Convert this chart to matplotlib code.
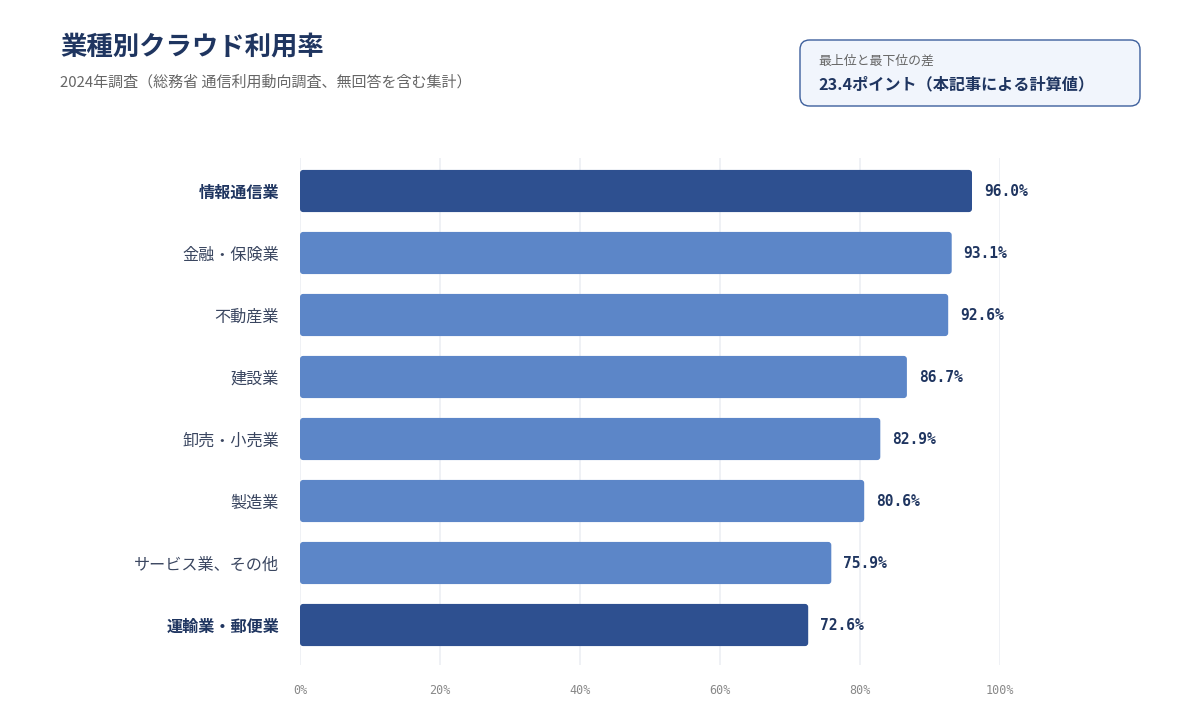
import numpy as np
import matplotlib
matplotlib.use("Agg")
import matplotlib.pyplot as plt
from matplotlib.patches import FancyBboxPatch
from matplotlib import font_manager

# データ
industries = ["情報通信業", "金融・保険業", "不動産業", "建設業",
              "卸売・小売業", "製造業", "サービス業、その他", "運輸業・郵便業"]
usage_rate = [96.0, 93.1, 92.6, 86.7, 82.9, 80.6, 75.9, 72.6]
highlight = [True, False, False, False, False, False, False, True]
x_ticks = [0, 20, 40, 60, 80, 100]

names = {f.name for f in font_manager.fontManager.ttflist}
jp = "Noto Sans CJK JP"
mono = "Noto Sans Mono CJK JP" if "Noto Sans Mono CJK JP" in names else "DejaVu Sans Mono"
plt.rcParams["font.family"] = [jp, "DejaVu Sans"]

dark = "#2e5090"
light = "#5c86c8"
navy = "#1f3560"

fig = plt.figure(figsize=(12, 7.2), dpi=100)
ax = fig.add_axes([0.25, 1 - 665 / 720, 700 / 1200, (665 - 158) / 720])

n = len(industries)
y = np.arange(n)
bar_h = 0.68
# x: 7px/unit, y: 62px/unit
for i, v in enumerate(usage_rate):
    p = FancyBboxPatch((0, y[i] - bar_h / 2), v, bar_h,
                       boxstyle="round,pad=0,rounding_size=0.45",
                       mutation_aspect=7 / 62,
                       fc=dark if highlight[i] else light, ec="none", zorder=3)
    ax.add_patch(p)
    ax.text(v + 1.7, y[i], f"{v:.1f}%", va="center", ha="left",
            fontsize=10.5, fontweight="bold", color=navy, family=[mono, jp])

ax.set_xlim(0, 100)
ax.set_ylim(n - 1 + 40 / 62, -33 / 62)
ax.set_xticks(x_ticks)
ax.set_xticklabels([f"{t}%" for t in x_ticks], family=[mono, jp],
                   fontsize=8.5, color="#888888")
ax.set_yticks(y)
ax.set_yticklabels(industries, fontsize=11.6)
for lab, h in zip(ax.get_yticklabels(), highlight):
    lab.set_color(navy if h else "#3a4660")
    lab.set_fontweight("bold" if h else "normal")
ax.tick_params(axis="both", length=0)
ax.tick_params(axis="y", pad=15)
ax.tick_params(axis="x", pad=14)
ax.grid(axis="x", color="#eef0f5", linewidth=1.3, zorder=0)
for s in ax.spines.values():
    s.set_visible(False)

fig.text(60 / 1200, 1 - 47 / 720, "業種別クラウド利用率", fontsize=19,
         fontweight="bold", color=navy, va="center")
fig.text(60 / 1200, 1 - 82 / 720,
         "2024年調査（総務省 通信利用動向調査、無回答を含む集計）",
         fontsize=10.8, color="#666666", va="center")

box = FancyBboxPatch((800 / 1200, 1 - 106 / 720), 340 / 1200, 66 / 720,
                     boxstyle="round,pad=0,rounding_size=0.008",
                     mutation_aspect=1200 / 720,
                     transform=fig.transFigure, fc="#f1f5fc", ec="#3d5f9c",
                     lw=1.0)
fig.patches.append(box)
fig.text(818 / 1200, 1 - 61 / 720, "最上位と最下位の差", fontsize=9.3,
         color="#666666", va="center")
fig.text(818 / 1200, 1 - 84 / 720, "23.4ポイント（本記事による計算値）",
         fontsize=11.6, fontweight="bold", color=navy, va="center")

fig.savefig("out.png", dpi=100, facecolor="white")
